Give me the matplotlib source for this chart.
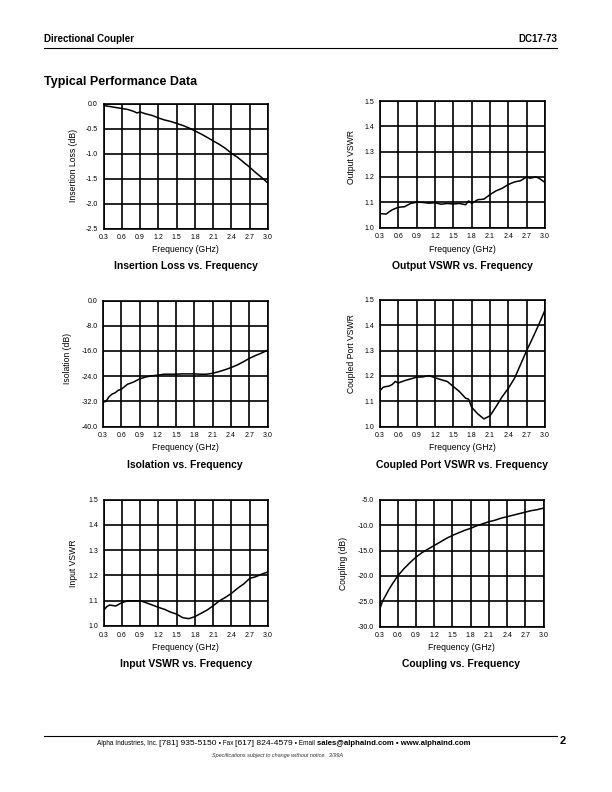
import matplotlib
matplotlib.use("Agg")
import matplotlib.pyplot as plt
from matplotlib.lines import Line2D
from matplotlib.ticker import FormatStrFormatter

plt.rcParams['font.family'] = ['Liberation Sans', 'DejaVu Sans']
plt.rcParams['axes.unicode_minus'] = False

# ---------------- data ----------------
freq_ticks = [0.3, 0.6, 0.9, 1.2, 1.5, 1.8, 2.1, 2.4, 2.7, 3.0]

il_freq = [0.3, 0.4, 0.5, 0.6, 0.7, 0.8, 0.85, 0.9, 1.0, 1.1, 1.2, 1.3, 1.4, 1.5, 1.6, 1.7,
           1.8, 1.9, 2.0, 2.1, 2.2, 2.3, 2.4, 2.5, 2.6, 2.7, 2.8, 2.9, 3.0]
insertion_loss = [-0.03, -0.05, -0.07, -0.09, -0.11, -0.15, -0.18, -0.16, -0.20, -0.23, -0.28,
                  -0.32, -0.35, -0.39, -0.43, -0.48, -0.54, -0.60, -0.67, -0.74, -0.81, -0.89,
                  -0.99, -1.07, -1.17, -1.27, -1.38, -1.48, -1.59]

out_freq = [0.3, 0.35, 0.4, 0.45, 0.5, 0.6, 0.7, 0.8, 0.9, 1.0, 1.1, 1.2, 1.3, 1.4, 1.5, 1.6,
            1.7, 1.75, 1.8, 1.9, 2.0, 2.1, 2.2, 2.3, 2.4, 2.5, 2.6, 2.7, 2.75, 2.8, 2.85, 2.9, 3.0]
output_vswr = [1.055, 1.054, 1.053, 1.062, 1.070, 1.080, 1.082, 1.095, 1.100, 1.099, 1.096,
               1.098, 1.092, 1.095, 1.093, 1.095, 1.090, 1.105, 1.095, 1.110, 1.112, 1.130,
               1.145, 1.155, 1.170, 1.180, 1.185, 1.200, 1.195, 1.197, 1.200, 1.195, 1.178]

iso_freq = [0.3, 0.35, 0.4, 0.45, 0.5, 0.55, 0.6, 0.7, 0.8, 0.9, 1.0, 1.1, 1.2, 1.3, 1.4, 1.5,
            1.6, 1.7, 1.8, 1.9, 2.0, 2.1, 2.2, 2.3, 2.4, 2.5, 2.6, 2.7, 2.8, 2.9, 3.0]
isolation = [-32.3, -32.0, -30.5, -29.7, -29.3, -28.5, -28.2, -26.6, -25.9, -24.9, -24.3,
             -23.9, -23.7, -23.4, -23.4, -23.4, -23.3, -23.3, -23.3, -23.4, -23.4, -23.1,
             -22.6, -22.0, -21.3, -20.5, -19.5, -18.4, -17.5, -16.7, -15.8]

cpl_vswr_freq = [0.3, 0.35, 0.4, 0.45, 0.5, 0.55, 0.6, 0.7, 0.8, 0.9, 1.0, 1.1, 1.2, 1.3, 1.4,
                 1.5, 1.6, 1.7, 1.75, 1.8, 1.9, 2.0, 2.1, 2.2, 2.3, 2.4, 2.5, 2.6, 2.7, 2.8,
                 2.9, 3.0]
coupled_vswr = [1.141, 1.155, 1.158, 1.160, 1.166, 1.178, 1.172, 1.181, 1.188, 1.195, 1.196,
                1.201, 1.193, 1.185, 1.178, 1.158, 1.138, 1.112, 1.108, 1.076, 1.050, 1.030,
                1.042, 1.079, 1.118, 1.151, 1.190, 1.245, 1.300, 1.351, 1.404, 1.460]

in_freq = [0.3, 0.35, 0.4, 0.5, 0.6, 0.7, 0.8, 0.9, 1.0, 1.1, 1.2, 1.3, 1.4, 1.5, 1.6, 1.7,
           1.8, 1.9, 2.0, 2.1, 2.2, 2.3, 2.4, 2.5, 2.6, 2.7, 2.8, 2.9, 3.0]
input_vswr = [1.060, 1.076, 1.083, 1.079, 1.092, 1.100, 1.099, 1.100, 1.092, 1.083, 1.074,
              1.066, 1.055, 1.047, 1.033, 1.029, 1.037, 1.050, 1.063, 1.080, 1.099, 1.113,
              1.129, 1.149, 1.166, 1.188, 1.195, 1.205, 1.214]

cpl_freq = [0.3, 0.35, 0.4, 0.45, 0.5, 0.6, 0.7, 0.8, 0.9, 1.0, 1.1, 1.2, 1.3, 1.4, 1.5, 1.6,
            1.7, 1.8, 1.9, 2.0, 2.1, 2.2, 2.3, 2.4, 2.5, 2.6, 2.7, 2.8, 2.9, 3.0]
coupling = [-26.7, -25.0, -23.9, -22.8, -21.8, -20.0, -18.6, -17.4, -16.3, -15.4, -14.7,
            -14.0, -13.3, -12.6, -12.0, -11.5, -11.0, -10.6, -10.1, -9.7, -9.3, -9.0, -8.6,
            -8.3, -8.0, -7.7, -7.4, -7.1, -6.9, -6.6]

# ---------------- layout ----------------
W, H = 612, 792
fig = plt.figure(figsize=(W / 100, H / 100), dpi=100)


def fx(x):
    return x / W


def fy(y):
    return 1 - y / H


def make_axes(left, right, top, bottom):
    return fig.add_axes([fx(left), fy(bottom), (right - left) / W, (bottom - top) / H])


panels = [
    # (x, y, ylim, yticks, ylabel, title, box(l,r,t,b), ylabel_x, ylabel_y)
    (il_freq, insertion_loss, (-2.5, 0.0), [-2.5, -2.0, -1.5, -1.0, -0.5, 0.0],
     "Insertion Loss (dB)", "Insertion Loss vs. Frequency",
     (103.5, 268, 104, 228.5), 74, 165),
    (out_freq, output_vswr, (1.0, 1.5), [1.0, 1.1, 1.2, 1.3, 1.4, 1.5],
     "Output VSWR", "Output VSWR vs. Frequency",
     (380, 545, 101, 227.5), 352, 157),
    (iso_freq, isolation, (-40.0, 0.0), [-40, -32, -24, -16, -8, 0],
     "Isolation (dB)", "Isolation vs. Frequency",
     (103, 267.5, 300.5, 426.5), 67, 358),
    (cpl_vswr_freq, coupled_vswr, (1.0, 1.5), [1.0, 1.1, 1.2, 1.3, 1.4, 1.5],
     "Coupled Port VSWR", "Coupled Port VSWR vs. Frequency",
     (380, 545, 300, 426.5), 352, 354),
    (in_freq, input_vswr, (1.0, 1.5), [1.0, 1.1, 1.2, 1.3, 1.4, 1.5],
     "Input VSWR", "Input VSWR vs. Frequency",
     (103.5, 268, 499.5, 626), 74, 563),
    (cpl_freq, coupling, (-30.0, -5.0), [-30, -25, -20, -15, -10, -5],
     "Coupling (dB)", "Coupling vs. Frequency",
     (379.5, 543.5, 500, 626.5), 344, 563),
]

xlabel_y = {0: 249, 1: 249, 2: 448, 3: 448, 4: 647, 5: 647}
title_y = {0: 266, 1: 266, 2: 465, 3: 465, 4: 664, 5: 664}

for i, (xs, ys, ylim, yt, ylab, title, box, ylx, lly) in enumerate(panels):
    l, r, t, b = box
    ax = make_axes(l, r, t, b)
    ax.plot(xs, ys, color='black', lw=1.1, zorder=3)
    ax.set_xlim(0.3, 3.0)
    ax.set_ylim(*ylim)
    ax.set_xticks(freq_ticks)
    ax.set_yticks(yt)
    ax.xaxis.set_major_formatter(FormatStrFormatter('%.1f'))
    ax.yaxis.set_major_formatter(FormatStrFormatter('%.1f'))
    ax.grid(True, color='black', lw=1.2, zorder=1)
    ax.tick_params(length=0, labelsize=5, pad=4, colors='black')
    for s in ax.spines.values():
        s.set_linewidth(1.2)
        s.set_color('black')
    cx = (l + r) / 2
    fig.text(fx(cx), fy(xlabel_y[i]), "Frequency (GHz)", ha='center', va='center',
             fontsize=6.2)
    fig.text(fx(cx), fy(title_y[i]), title, ha='center', va='center', fontsize=7.5,
             fontweight='bold')
    fig.text(fx(ylx), fy(lly), ylab, ha='center', va='center', rotation=90, fontsize=6.2)

# ---------------- header ----------------
fig.text(fx(44), fy(39), "Directional Coupler", ha='left', va='center', fontsize=7,
         fontweight='bold')
fig.text(fx(557), fy(39), "DC17-73", ha='right', va='center', fontsize=7,
         fontweight='bold')
fig.add_artist(Line2D([fx(44), fx(557)], [fy(47.5), fy(47.5)], transform=fig.transFigure,
                      color='black', lw=0.8))
fig.text(fx(44), fy(82), "Typical Performance Data", ha='left', va='center', fontsize=9,
         fontweight='bold')

# ---------------- footer ----------------
fig.add_artist(Line2D([fx(44), fx(557)], [fy(736), fy(736)], transform=fig.transFigure,
                      color='black', lw=0.8))
renderer = fig.canvas.get_renderer()
segments = [
    ("Alpha Industries, Inc. ", dict(fontsize=4.7)),
    ("[781] 935-5150", dict(fontsize=6.1)),
    (" \u2022 Fax ", dict(fontsize=4.7)),
    ("[617] 824-4579", dict(fontsize=6.1)),
    (" \u2022 Email ", dict(fontsize=4.7)),
    ("sales@alphaind.com \u2022 www.alphaind.com", dict(fontsize=5.6, fontweight='bold')),
]
xcur = 97
for txt, kw in segments:
    tt = fig.text(fx(xcur), fy(745), txt, ha='left', va='baseline', **kw)
    xcur += tt.get_window_extent(renderer=renderer).width
fig.text(fx(563), fy(741), "2", ha='center', va='center', fontsize=8, fontweight='bold')
fig.text(fx(278), fy(755), "Specifications subject to change without notice.  3/99A",
         ha='center', va='center', fontsize=4, style='italic', color='#333333')

fig.savefig("out.png", dpi=100)
